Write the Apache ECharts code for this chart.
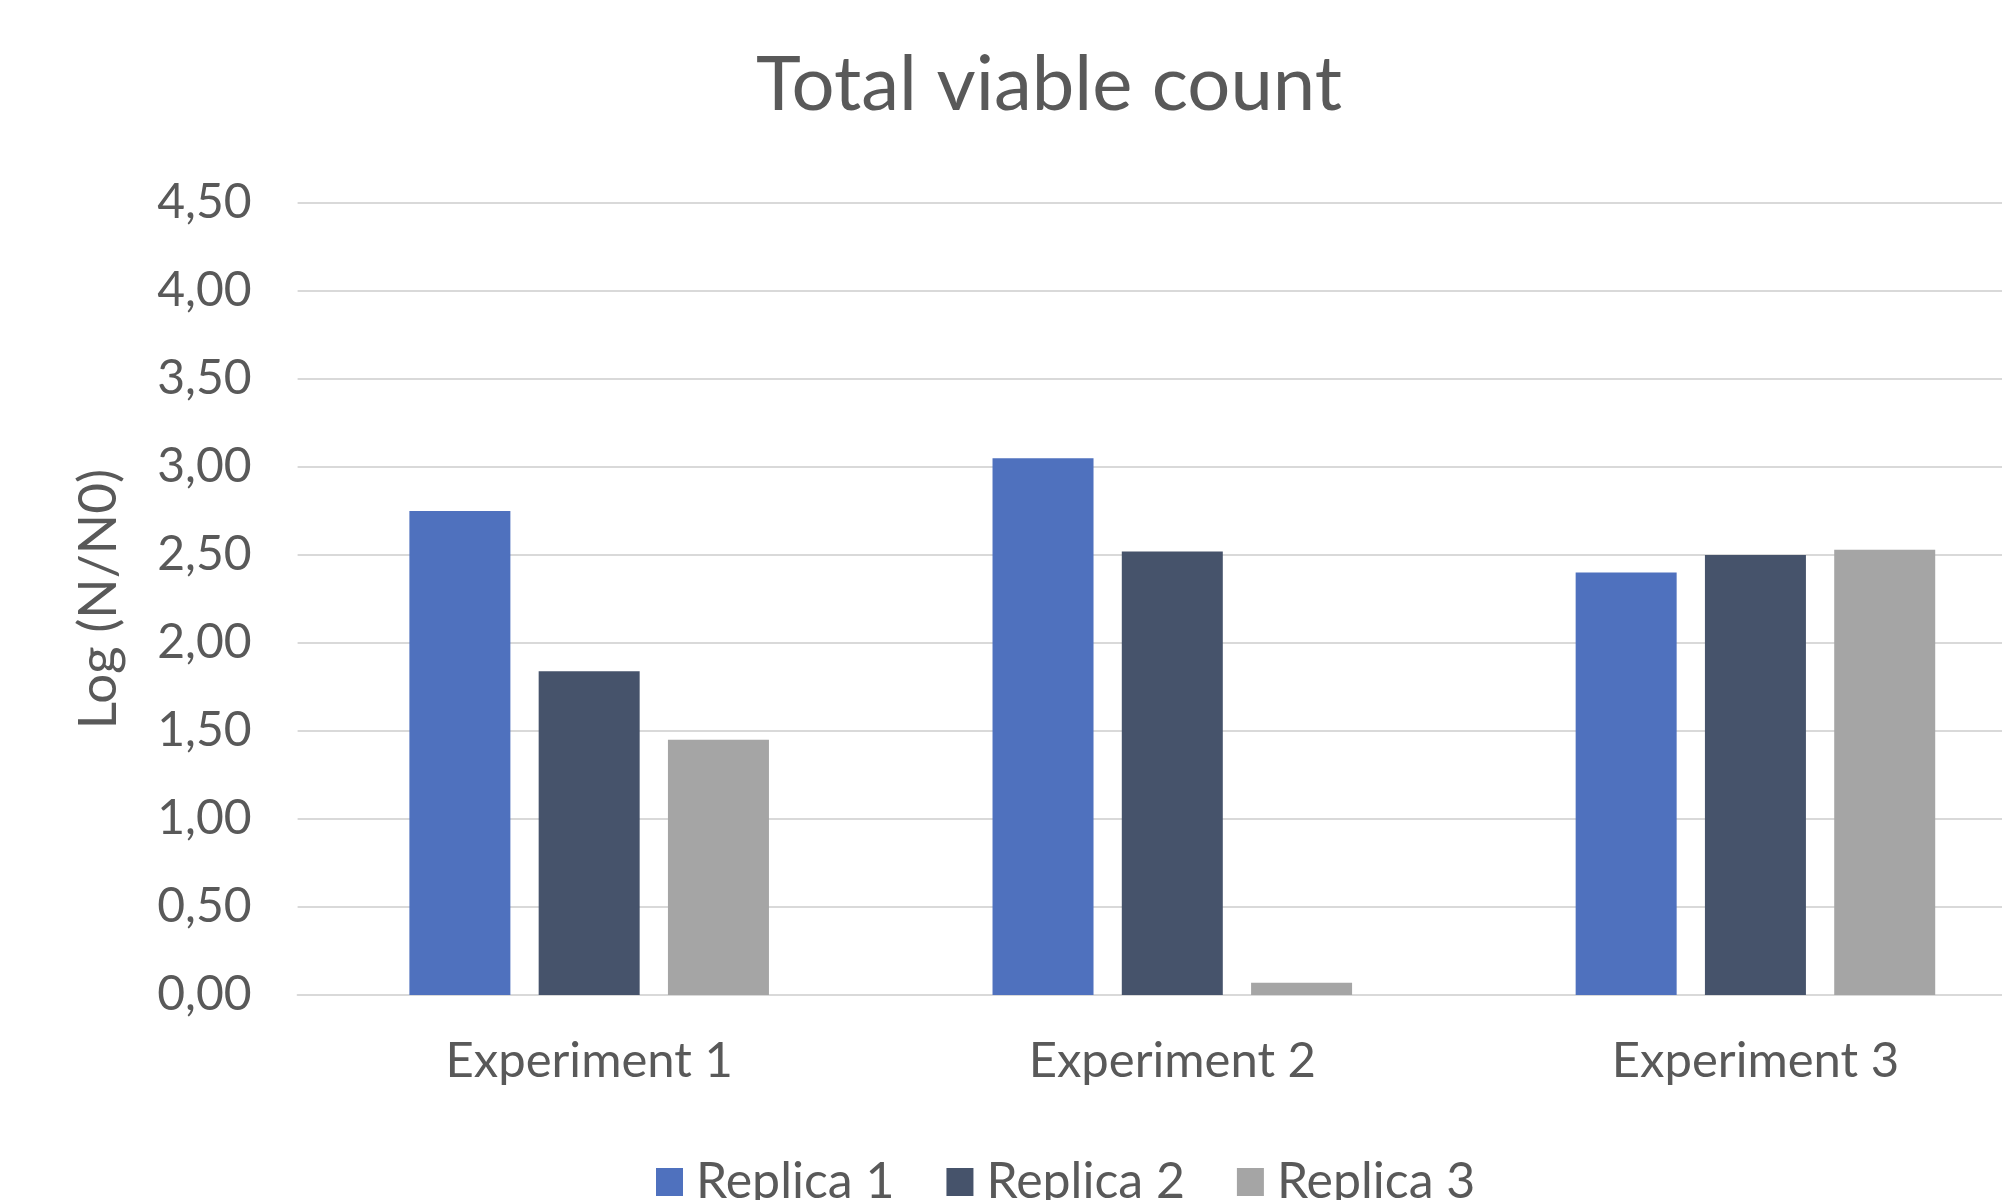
<!DOCTYPE html>
<html>
<head>
<meta charset="utf-8">
<script src="https://cdn.jsdelivr.net/npm/echarts@6/dist/echarts.min.js"></script>
<style>
html,body{margin:0;padding:0;background:#fff;overflow:hidden;width:2002px;height:1200px;}
#c{width:2047px;height:1200px;}
</style>
</head>
<body>
<div id="c"></div>
<script>
var categories = ['Experiment 1', 'Experiment 2', 'Experiment 3'];
var seriesNames = ['Replica 1', 'Replica 2', 'Replica 3'];
var replica1 = [2.75, 3.05, 2.40];
var replica2 = [1.84, 2.52, 2.50];
var replica3 = [1.45, 0.07, 2.53];
var colors = ['#4F71BE', '#46536B', '#A5A5A5'];
var yMin = 0, yMax = 4.5, yInterval = 0.5;

var FONT = 'Lato';
var TXT = '#595959';
var chart = echarts.init(document.getElementById('c'), null, {renderer: 'canvas'});
var values = [replica1, replica2, replica3];
chart.setOption({
  animation: false,
  backgroundColor: '#ffffff',
  title: {
    text: 'Total viable count',
    left: 751, top: 42,
    textStyle: {fontFamily: FONT, fontSize: 76, fontWeight: 'normal', color: TXT}
  },
  legend: {
    data: seriesNames,
    left: 656, top: 1157,
    padding: 0,
    itemWidth: 27, itemHeight: 28,
    itemGap: 52,
    icon: 'rect',
    textStyle: {fontFamily: FONT, fontSize: 50, lineHeight: 28, color: TXT, padding: [0, 0, 0, 8]}
  },
  grid: {left: 297.6, top: 203, right: 0, bottom: 205, containLabel: false},
  xAxis: {
    type: 'category',
    data: categories,
    axisTick: {show: false},
    axisLine: {lineStyle: {color: '#D9D9D9', width: 2}},
    axisLabel: {fontFamily: FONT, fontSize: 49, color: TXT, margin: 42}
  },
  yAxis: {
    type: 'value',
    min: yMin, max: yMax, interval: yInterval,
    name: 'Log (N/N0)',
    nameLocation: 'middle',
    nameGap: 172,
    nameTextStyle: {fontFamily: FONT, fontSize: 53, color: TXT},
    axisLine: {show: false},
    axisTick: {show: false},
    splitLine: {lineStyle: {color: '#D9D9D9', width: 2}},
    axisLabel: {
      fontFamily: FONT, fontSize: 48, color: TXT, margin: 46,
      formatter: function (v) { return v.toFixed(2).replace('.', ','); }
    }
  },
  series: seriesNames.map(function (n, i) {
    return {
      name: n, type: 'bar', data: values[i],
      barWidth: 101, barGap: '28%',
      itemStyle: {color: colors[i]}
    };
  })
});
</script>
</body>
</html>
